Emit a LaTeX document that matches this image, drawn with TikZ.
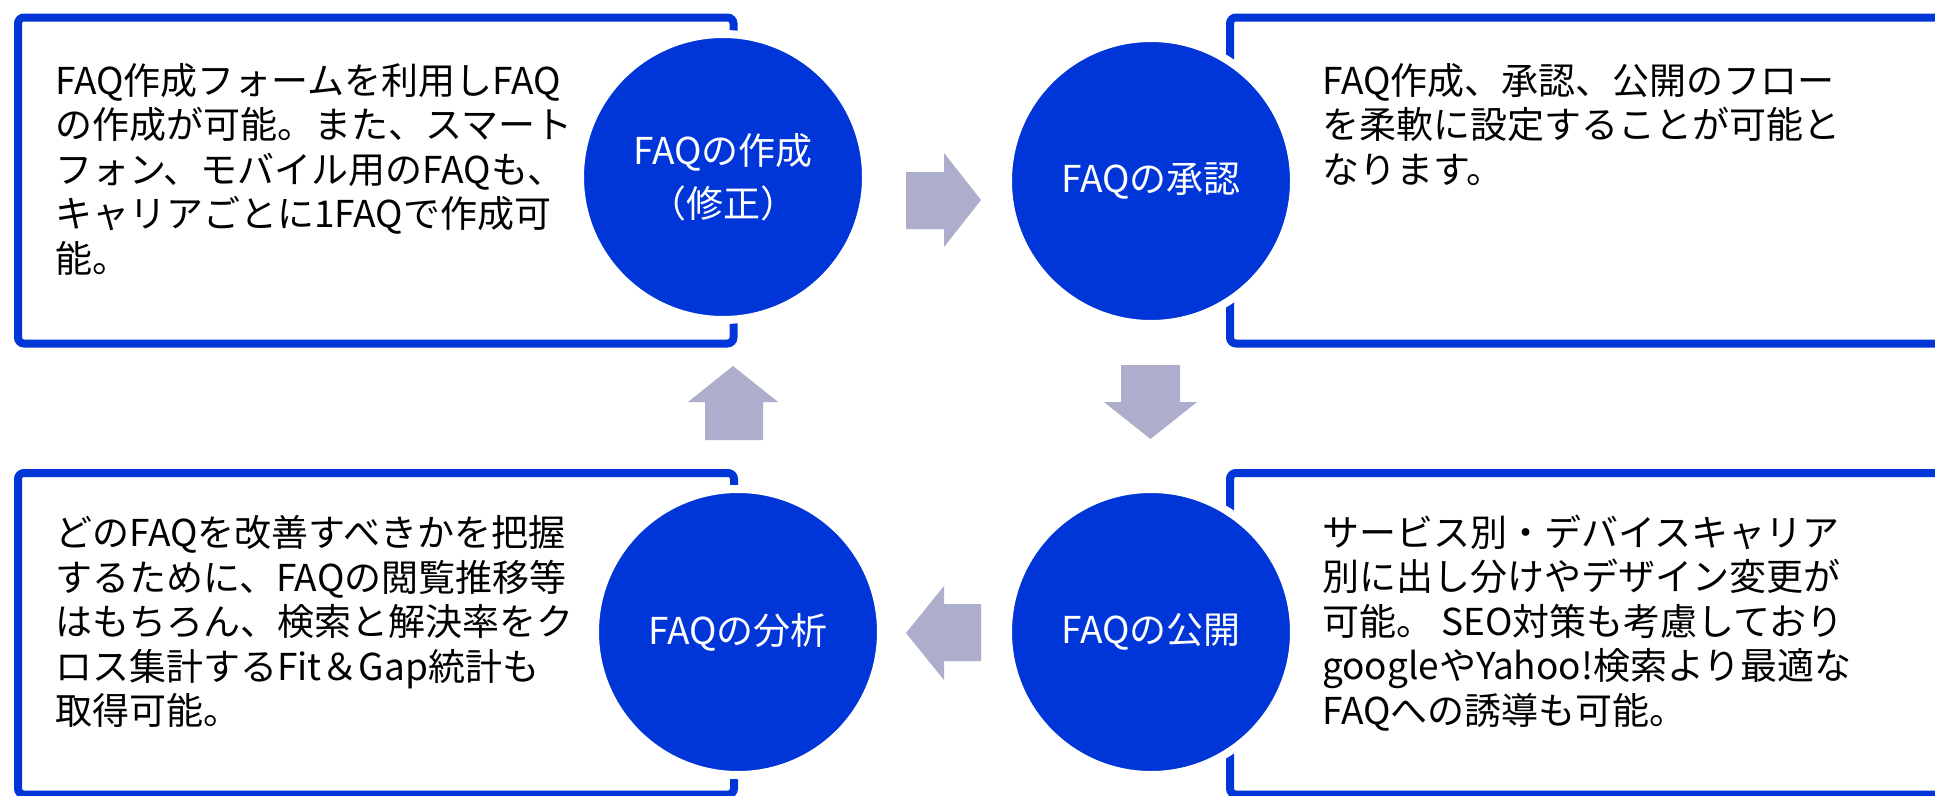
\documentclass[tikz,border=0pt]{standalone}
\usepackage{fontspec}
\setmainfont{Noto Sans CJK JP}
\definecolor{mainblue}{RGB}{0,54,216}
\definecolor{arrowgray}{RGB}{173,173,204}
\begin{document}
\begin{tikzpicture}[x=1pt,y=-1pt,
  infobox/.style={draw=mainblue, line width=8pt, rounded corners=6pt, fill=white, rectangle, inner sep=0pt, anchor=north west},
  stage/.style={circle, fill=mainblue, draw=white, line width=8pt, minimum size=286pt, inner sep=0pt, text=white, font=\fontsize{37}{53}\selectfont, align=center},
  desc/.style={anchor=north west, inner sep=0pt, align=left, font=\fontsize{37}{44.5}\selectfont, text=black},
  blockarrow/.style={fill=arrowgray}
]
\useasboundingbox (0,0) rectangle (1935,795);
\clip (0,0) rectangle (1935,795);
\fill[white] (0,0) rectangle (1935,795);

% boxes
\node[infobox, minimum width=715.5pt, minimum height=326pt] (boxTL) at (14,13.5) {};
\node[infobox, minimum width=740pt, minimum height=326pt] (boxTR) at (1226,13.5) {};
\node[infobox, minimum width=716pt, minimum height=321.5pt] (boxBL) at (14,469) {};
\node[infobox, minimum width=740pt, minimum height=321.5pt] (boxBR) at (1226,469) {};

% circles
\node[stage] (c1) at (723,177) {FAQの作成\\（修正）};
\node[stage] (c2) at (1151,181) {FAQの承認};
\node[stage] (c3) at (738,632) {FAQの分析};
\node[stage] (c4) at (1151,632) {FAQの公開};

% block arrows
\fill[blockarrow] (906,172) -- (944,172) -- (944,153) -- (981,200) -- (944,247) -- (944,229) -- (906,229) -- cycle;
\fill[blockarrow] (1121,365) -- (1180,365) -- (1180,402) -- (1197,402) -- (1150.5,439) -- (1104,402) -- (1121,402) -- cycle;
\fill[blockarrow] (981,604) -- (944,604) -- (944,586) -- (906,633) -- (944,680) -- (944,661) -- (981,661) -- cycle;
\fill[blockarrow] (705,440) -- (705,402) -- (688,402) -- (733,366) -- (778,402) -- (763,402) -- (763,440) -- cycle;

% descriptions
\node[desc] (tTL) at (55,63) {FAQ作成フォームを利用しFAQ\\の作成が可能。また、スマート\\フォン、モバイル用のFAQも、\\キャリアごとに1FAQで作成可\\能。};
\node[desc] (tTR) at (1322,63) {FAQ作成、承認、公開のフロー\\を柔軟に設定することが可能と\\なります。};
\node[desc] (tBL) at (55,515.5) {どのFAQを改善すべきかを把握\\するために、FAQの閲覧推移等\\はもちろん、検索と解決率をク\\ロス集計するFit＆Gap統計も\\取得可能。};
\node[desc] (tBR) at (1322,514.5) {サービス別・デバイスキャリア\\別に出し分けやデザイン変更が\\可能。 SEO対策も考慮しており\\googleやYahoo!検索より最適な\\FAQへの誘導も可能。};
\end{tikzpicture}
\end{document}
